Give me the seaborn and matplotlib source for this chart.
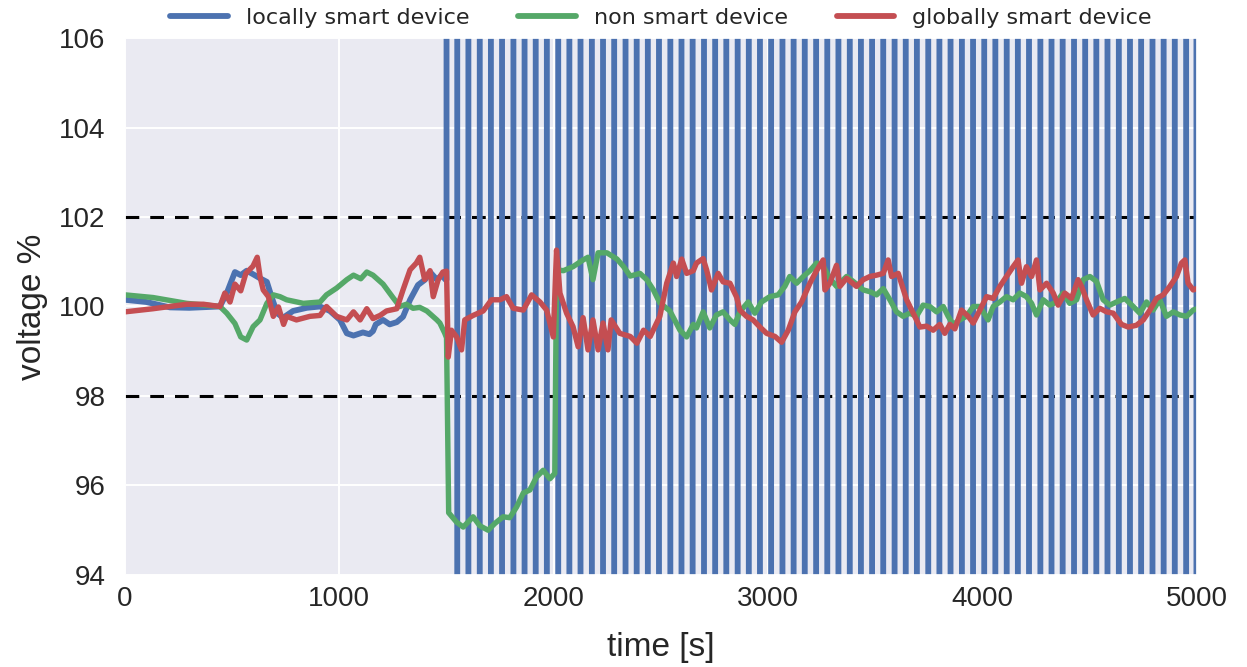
import matplotlib
matplotlib.use("Agg")
import matplotlib.pyplot as plt
import seaborn as sns
import pandas as pd

# ---------------- data ----------------
blue_t = [0, 100, 210, 300, 443, 475, 513, 540, 568, 598, 630, 662, 685, 710, 738, 784, 848, 910,
          956, 1003, 1035, 1066, 1110, 1140, 1157, 1170, 1204, 1235, 1268, 1297, 1330, 1367, 1400,
          1423, 1455, 1478, 1495]
blue_v = [100.15, 100.1, 99.98, 99.97, 100.0, 100.3, 100.77, 100.7, 100.8, 100.72, 100.63, 100.55,
          100.2, 99.85, 99.75, 99.9, 99.97, 100.0, 99.9, 99.7, 99.4, 99.35, 99.42, 99.38, 99.45,
          99.6, 99.7, 99.6, 99.65, 99.77, 100.15, 100.48, 100.6, 100.77, 100.6, 100.7, 100.6]
# oscillation of the locally smart device: switch instants between the two (off-scale) levels
blue_switch_t = [1500, 1550, 1602, 1655, 1707, 1759, 1812, 1864, 1916, 1968, 2021, 2073, 2125,
                 2178, 2230, 2282, 2335, 2387, 2439, 2491, 2544, 2596, 2648, 2701, 2753, 2805,
                 2858, 2910, 2962, 3014, 3067, 3119, 3171, 3224, 3276, 3328, 3381, 3433, 3485,
                 3537, 3590, 3642, 3694, 3747, 3799, 3851, 3904, 3956, 4008, 4060, 4113, 4165,
                 4217, 4270, 4322, 4374, 4427, 4479, 4531, 4583, 4636, 4688, 4740, 4793, 4845,
                 4897, 4950, 4998]
blue_levels = [108.0, 92.0]  # high, low (outside the visible range)
t_end = 5000

green_t = [0, 131, 288, 443, 475, 513, 540, 568, 598, 630, 662, 692, 723, 754, 832, 910, 940, 987,
           1035, 1066, 1100, 1128, 1157, 1204, 1250, 1282, 1313, 1344, 1375, 1408, 1455, 1469,
           1492, 1500, 1510, 1547, 1578, 1624, 1655, 1694, 1725, 1764, 1795, 1827, 1858, 1889,
           1920, 1951, 1982, 2005, 2013, 2045, 2090, 2137, 2160, 2183, 2207, 2248, 2295, 2326,
           2357, 2402, 2434, 2465, 2495, 2542, 2589, 2620, 2651, 2666, 2697, 2728, 2759, 2790,
           2822, 2845, 2868, 2907, 2938, 2969, 3008, 3047, 3078, 3101, 3133, 3164, 3195, 3226,
           3257, 3288, 3319, 3366, 3397, 3444, 3475, 3506, 3537, 3568, 3599, 3630, 3661, 3692,
           3723, 3754, 3786, 3817, 3840, 3863, 3894, 3925, 3957, 3988, 4026, 4050, 4081, 4112,
           4143, 4174, 4205, 4229, 4252, 4283, 4314, 4345, 4376, 4407, 4439, 4470, 4501, 4532,
           4563, 4594, 4625, 4664, 4703, 4734, 4765, 4796, 4827, 4858, 4890, 4921, 4952, 4983,
           5000]
green_v = [100.26, 100.2, 100.07, 100.0, 99.85, 99.62, 99.32, 99.25, 99.55, 99.7, 100.07, 100.26,
           100.22, 100.15, 100.07, 100.1, 100.26, 100.41, 100.6, 100.7, 100.62, 100.77, 100.7,
           100.5, 100.2, 100.0, 100.05, 99.96, 99.98, 99.9, 99.7, 99.63, 99.4, 99.3, 95.39, 95.18,
           95.07, 95.3, 95.1, 95.0, 95.15, 95.3, 95.28, 95.52, 95.83, 95.9, 96.19, 96.34, 96.15,
           96.27, 100.82, 100.8, 100.89, 101.04, 101.1, 100.6, 101.2, 101.2, 101.06, 100.89,
           100.68, 100.74, 100.6, 100.37, 100.08, 99.9, 99.47, 99.32, 99.6, 99.52, 99.88, 99.52,
           99.81, 99.88, 99.7, 99.6, 99.88, 100.1, 99.85, 100.1, 100.22, 100.26, 100.45, 100.67,
           100.52, 100.67, 100.8, 100.97, 100.9, 100.63, 100.45, 100.67, 100.56, 100.37, 100.33,
           100.26, 100.4, 100.15, 99.88, 99.78, 99.85, 99.78, 100.03, 100.0, 99.88, 100.0, 99.78,
           99.6, 99.7, 99.78, 100.0, 100.0, 99.7, 100.0, 100.1, 100.22, 100.15, 100.3, 100.22,
           100.07, 99.81, 100.15, 100.03, 100.1, 100.3, 100.07, 100.15, 100.6, 100.67, 100.56,
           100.15, 100.03, 100.1, 100.18, 100.0, 99.85, 100.1, 99.92, 100.15, 99.78, 99.88,
           99.81, 99.78, 99.92, 99.95]

red_t = [0, 131, 288, 366, 443, 466, 490, 513, 540, 564, 597, 617, 630, 645, 669, 692, 716, 740,
         754, 800, 863, 910, 940, 987, 1035, 1066, 1097, 1128, 1157, 1190, 1220, 1268, 1297, 1330,
         1359, 1375, 1398, 1423, 1438, 1461, 1483, 1500, 1508, 1523, 1547, 1570, 1585, 1624, 1671,
         1710, 1749, 1780, 1811, 1858, 1897, 1936, 1967, 1998, 2013, 2029, 2060, 2090, 2114, 2137,
         2160, 2183, 2207, 2230, 2253, 2268, 2308, 2357, 2388, 2419, 2450, 2495, 2527, 2558, 2573,
         2597, 2620, 2651, 2666, 2697, 2713, 2736, 2767, 2790, 2822, 2853, 2868, 2899, 2930, 2962,
         2993, 3032, 3063, 3094, 3125, 3156, 3195, 3226, 3257, 3265, 3288, 3319, 3335, 3366, 3412,
         3444, 3475, 3506, 3537, 3560, 3576, 3607, 3646, 3677, 3708, 3739, 3770, 3801, 3824, 3848,
         3871, 3902, 3933, 3957, 3988, 4019, 4050, 4081, 4112, 4143, 4166, 4182, 4205, 4229, 4252,
         4268, 4299, 4330, 4353, 4384, 4415, 4446, 4462, 4485, 4516, 4547, 4579, 4610, 4648, 4680,
         4718, 4750, 4781, 4812, 4843, 4874, 4905, 4928, 4944, 4959, 4983, 5000]
red_v = [99.88, 99.95, 100.05, 100.05, 100.0, 100.3, 100.1, 100.5, 100.35, 100.74, 100.9, 101.1,
         100.67, 100.37, 100.22, 99.78, 99.99, 99.6, 99.78, 99.7, 99.78, 99.8, 100.0, 99.78, 99.7,
         99.88, 99.7, 99.95, 99.73, 99.8, 99.9, 99.95, 100.37, 100.82, 100.97, 101.1, 100.6, 100.8,
         100.22, 100.6, 100.77, 100.79, 98.87, 99.47, 99.32, 99.03, 99.7, 99.8, 99.9, 100.15,
         100.15, 100.22, 99.96, 99.92, 100.26, 100.1, 99.92, 99.32, 101.26, 100.3, 99.85, 99.55,
         99.1, 99.75, 99.03, 99.7, 99.03, 99.63, 99.03, 99.7, 99.4, 99.33, 99.18, 99.47, 99.33,
         99.78, 100.52, 100.97, 100.67, 101.06, 100.74, 100.8, 100.97, 101.07, 100.82, 100.37,
         100.74, 100.55, 100.52, 100.21, 99.92, 99.78, 99.7, 99.54, 99.4, 99.33, 99.2, 99.47,
         99.88, 100.1, 100.52, 100.8, 101.04, 100.37, 100.52, 100.92, 100.45, 100.63, 100.45,
         100.6, 100.67, 100.7, 100.74, 101.04, 100.67, 100.74, 100.15, 99.85, 99.54, 99.56, 99.47,
         99.6, 99.4, 99.6, 99.5, 99.92, 99.78, 99.63, 99.92, 100.22, 100.18, 100.45, 100.67,
         100.89, 101.04, 100.52, 100.89, 100.67, 101.04, 100.37, 100.52, 100.3, 100.03, 100.3,
         100.18, 100.6, 100.45, 100.15, 99.81, 99.96, 99.88, 99.85, 99.6, 99.54, 99.58, 99.7,
         99.92, 100.18, 100.26, 100.45, 100.67, 100.97, 101.04, 100.52, 100.37, 100.4]

series_names = ["locally smart device", "non smart device", "globally smart device"]
series_colors = ["#4C72B0", "#55A868", "#C44E52"]
limit_lines = [98, 102]
x_ticks = [0, 1000, 2000, 3000, 4000, 5000]
y_ticks = [94, 96, 98, 100, 102, 104, 106]

# build the blue step series from the switch instants
bt = list(blue_t)
bv = list(blue_v)
cur = blue_v[-1]
for i, ts in enumerate(blue_switch_t):
    nxt = blue_levels[i % 2]
    bt += [ts, ts]
    bv += [cur, nxt]
    cur = nxt
bt.append(t_end)
bv.append(cur)

# ---------------- style ----------------
sns.set_theme(style="darkgrid")
plt.rcParams["font.family"] = ["Liberation Sans", "DejaVu Sans"]
plt.rcParams["axes.facecolor"] = "#EAEAF2"
plt.rcParams["grid.color"] = "white"
plt.rcParams["grid.linewidth"] = 1.4

fig = plt.figure(figsize=(12.47, 6.67), dpi=100)
ax = fig.add_axes([0.1002, 0.138, 0.8596, 0.805])

frames = [
    pd.DataFrame({"t": bt, "v": bv}),
    pd.DataFrame({"t": green_t, "v": green_v}),
    pd.DataFrame({"t": red_t, "v": red_v}),
]
widths = [4.2, 3.9, 3.9]
for df, name, col, lw in zip(frames, series_names, series_colors, widths):
    sns.lineplot(data=df, x="t", y="v", ax=ax, color=col, lw=lw, label=name,
                 sort=False, estimator=None)

for yv in limit_lines:
    ax.axhline(yv, color="black", ls="--", lw=2.2, dashes=(4.5, 3.6), zorder=1.9)

ax.set_xlim(0, 5000)
ax.set_ylim(94, 106)
ax.set_xticks(x_ticks)
ax.set_yticks(y_ticks)
ax.tick_params(axis="both", labelsize=20, colors="#262626", length=0)
ax.tick_params(axis="y", pad=14)
ax.tick_params(axis="x", pad=8)
ax.set_xlabel("time [s]", fontsize=24, color="#262626", labelpad=14)
ax.set_ylabel("voltage %", fontsize=24, color="#262626", labelpad=8)

leg = ax.legend(loc="lower center", bbox_to_anchor=(0.5, 1.0), ncol=3, frameon=False,
                handlelength=2.6, columnspacing=2.2, borderaxespad=0.05,
                prop={"family": "DejaVu Sans", "size": 16})
for line in leg.get_lines():
    line.set_linewidth(4.2)

fig.savefig("out.png", dpi=100)
